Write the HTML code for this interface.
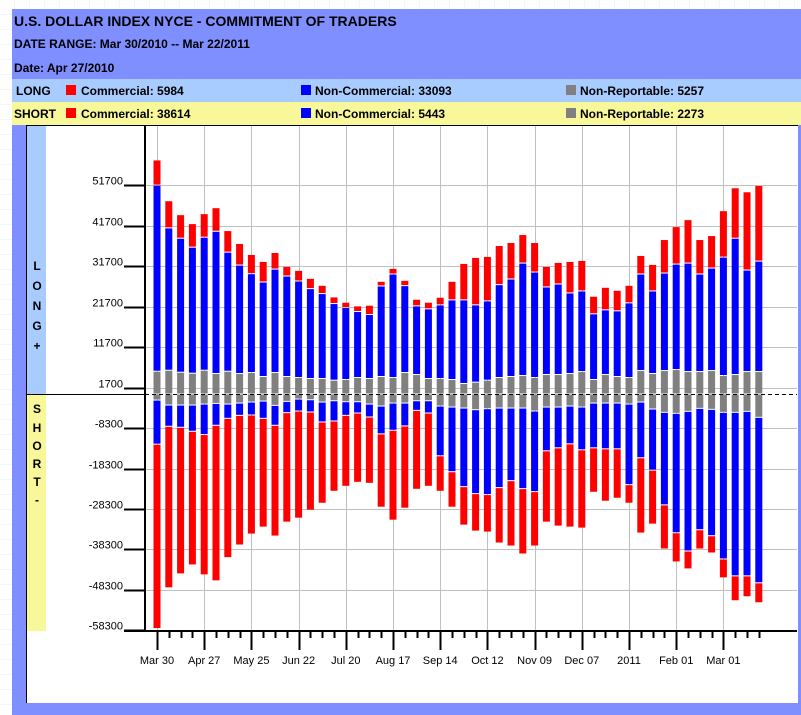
<!DOCTYPE html>
<html><head><meta charset="utf-8"><style>
html,body{margin:0;padding:0;background:#fff;}
svg{display:block;font-family:"Liberation Sans",sans-serif;}
.b{font-weight:bold;font-size:12px;fill:#000;}
</style></head><body>
<svg id="c" width="801" height="715" viewBox="0 0 801 715" xmlns="http://www.w3.org/2000/svg">
<defs><pattern id="gp" width="15" height="15" patternUnits="userSpaceOnUse"><rect width="15" height="15" fill="#fff"/><path d="M15 0V15M0 15H15" stroke="#d8f4f4" stroke-width="1"/></pattern></defs>
<rect x="0" y="0" width="801" height="715" fill="url(#gp)"/>
<rect x="12" y="9" width="789" height="706" fill="#7f8fff"/>
<text x="14" y="26" style="font-weight:bold;font-size:14px">U.S. DOLLAR INDEX NYCE - COMMITMENT OF TRADERS</text>
<text x="14" y="48" class="b">DATE RANGE: Mar 30/2010 -- Mar 22/2011</text>
<text x="14" y="72" class="b">Date: Apr 27/2010</text>
<rect x="12" y="79" width="789" height="23" fill="#a8ccff"/>
<rect x="12" y="102" width="789" height="23" fill="#f8f89a"/>
<text x="16" y="95" class="b">LONG</text>
<rect x="66" y="85" width="10" height="10" fill="#f00"/>
<text x="81" y="95" class="b">Commercial: 5984</text>
<rect x="301" y="85" width="10" height="10" fill="#00f"/>
<text x="315" y="95" class="b">Non-Commercial: 33093</text>
<rect x="566" y="85" width="10" height="10" fill="#808080"/>
<text x="580" y="95" class="b">Non-Reportable: 5257</text>
<text x="14" y="118" class="b">SHORT</text>
<rect x="66" y="108" width="10" height="10" fill="#f00"/>
<text x="81" y="118" class="b">Commercial: 38614</text>
<rect x="301" y="108" width="10" height="10" fill="#00f"/>
<text x="315" y="118" class="b">Non-Commercial: 5443</text>
<rect x="566" y="108" width="10" height="10" fill="#808080"/>
<text x="580" y="118" class="b">Non-Reportable: 2273</text>
<rect x="26" y="125" width="772" height="578" fill="#fff"/>
<line x1="26" y1="125.5" x2="798" y2="125.5" stroke="#000" stroke-width="1"/>
<line x1="26.5" y1="125" x2="26.5" y2="703" stroke="#000" stroke-width="1"/>
<rect x="27" y="126" width="19" height="268" fill="#a8ccff"/>
<rect x="27" y="395" width="19" height="236" fill="#f8f89a"/>
<g class="b" text-anchor="middle">
<text x="37" y="270">L</text><text x="37" y="290">O</text><text x="37" y="310">N</text><text x="37" y="330">G</text><text x="37" y="350">+</text></g>
<g class="b" text-anchor="middle">
<text x="37" y="413">S</text><text x="37" y="432">H</text><text x="37" y="450">O</text><text x="37" y="468">R</text><text x="37" y="486">T</text><text x="37" y="504">-</text></g>
<g id="grid"></g><g id="bars"></g><g id="axes"></g>
</svg>
<script>
const dates=["Mar 30","Apr 27","May 25","Jun 22","Jul 20","Aug 17","Sep 14","Oct 12","Nov 09","Dec 07","2011","Feb 01","Mar 01"];
const yTicks=[51700,41700,31700,21700,11700,1700,-8300,-18300,-28300,-38300,-48300,-58300];
const longNonRep=[5633,5879,5387,5141,5879,5059,5633,5059,5305,4321,5305,4321,4075,3829,3829,3419,3583,4075,3829,4321,4075,5305,4813,3829,3829,3583,2599,2927,3419,4075,4321,4567,4075,4813,4813,5059,5551,3583,4813,4321,4075,5797,5059,5797,6043,5551,5551,5797,4567,4813,5551,5551];
const longNonComm=[46002,35178,33128,31160,32882,35178,29438,26814,24436,23370,25584,24846,23862,22222,20992,18942,17794,16318,15826,22386,25584,21484,16974,17220,18204,19680,20664,19106,19598,22960,24108,27798,26076,21648,22386,19926,19926,16236,15990,16236,18450,23862,20418,24108,26076,26814,24108,25338,29274,33702,25092,27306];
const longComm=[6232,6724,5822,5822,5822,5822,5330,5330,4756,5084,4100,2378,2624,2542,2050,1640,1312,1394,2296,1148,1394,1312,1640,1640,1886,4592,9020,11726,10988,9676,9020,7052,7298,5084,5330,7790,7544,4346,5576,5084,4346,4592,6560,8282,9266,10742,8528,8036,11480,12464,19352,18696];
const shortNonRep=[1501,2731,2731,2731,2485,2321,2485,2239,1993,1747,2813,1829,1255,1419,1993,1665,1911,1911,2485,2977,2239,2239,1665,1665,2977,3223,3469,3879,3633,3469,3469,3469,4207,3223,3223,2977,3223,2239,2239,2239,2485,1993,3715,4535,4781,4289,3551,3797,4535,4535,4289,5765];
const shortNonComm=[10906,5248,5494,6478,7544,5412,3526,3034,3198,4264,4920,2788,2952,3034,4920,5002,3362,2788,3198,6888,6724,5658,2378,3034,12300,15990,19434,20746,21238,19680,17958,19926,19926,10824,10086,9348,10578,11070,11316,11316,19926,13776,15088,22878,29520,34522,30012,31242,36244,40426,40672,40918];
const shortComm=[45592,39934,36244,33046,34686,38458,34440,32062,29438,26896,27388,27060,26486,24272,20090,17384,17548,17138,16400,18122,22222,20336,19516,18122,8774,8774,9512,9266,9266,13694,16154,16154,13448,17630,19352,20582,19352,10988,12956,12218,4592,18614,13366,10906,7216,4428,4756,4264,4674,6150,5166,4920];

const NS="http://www.w3.org/2000/svg";
const X0=157,STEP=11.8,Y0=394.5,K=0.004045;
function xS(i){return X0+i*STEP;}
function yS(v){return Y0-v*K;}
function mk(parent,tag,attrs){const e=document.createElementNS(NS,tag);for(const k in attrs)e.setAttribute(k,attrs[k]);parent.appendChild(e);return e;}
const grid=document.getElementById('grid'),bars=document.getElementById('bars'),axes=document.getElementById('axes');
const N=longComm.length;
yTicks.forEach(v=>{
  const y=Math.round(yS(v))+0.5;
  const gl=mk(grid,'line',{x1:145,y1:y,x2:797,y2:y,stroke:'#c0c0c0','stroke-width':1});
  
  
  const tk=mk(axes,'line',{x1:124,y1:y,x2:145,y2:y,stroke:'#000','stroke-width':2});
  
  
  const t=mk(axes,'text',{x:123,y:y-1,'text-anchor':'end','font-size':'11px',fill:'#000'});
  t.textContent=String(v);
  
  
});
dates.forEach((d,k)=>{
  const x=Math.round(xS(k*4))+0.5;
  const gl=mk(grid,'line',{x1:x,y1:126,x2:x,y2:631,stroke:'#c0c0c0','stroke-width':1});
  
  
});
function seg(x,v0,v1,color,name){
  const ya=yS(v0),yb=yS(v1);
  const top=Math.min(ya,yb),h=Math.abs(ya-yb);
  const r=mk(bars,'rect',{x:x-3.5,y:top,width:7,height:Math.max(0,h-1),fill:color});
  
  
}
for(let i=0;i<N;i++){
  const x=xS(i);
  let a=0;
  seg(x,a,a+longNonRep[i],'#808080','bar-long-nonreportable');a+=longNonRep[i];
  seg(x,a+longNonComm[i],a,'#0000ff','bar-long-noncommercial');a+=longNonComm[i];
  seg(x,a+longComm[i],a,'#ff0000','bar-long-commercial');
  let b=0;
  seg(x,b,b-shortNonRep[i],'#808080','bar-short-nonreportable');b-=shortNonRep[i];
  seg(x,b,b-shortNonComm[i],'#0000ff','bar-short-noncommercial');b-=shortNonComm[i];
  seg(x,b,b-shortComm[i],'#ff0000','bar-short-commercial');
}
const z1=mk(axes,'line',{x1:27,y1:394.5,x2:145,y2:394.5,stroke:'#000','stroke-width':1});


const z2=mk(axes,'line',{x1:145,y1:394.5,x2:797,y2:394.5,stroke:'#000','stroke-width':1,'stroke-dasharray':'4,3'});


const ya=mk(axes,'line',{x1:145,y1:125,x2:145,y2:632,stroke:'#000','stroke-width':2});


const xa=mk(axes,'line',{x1:124,y1:631,x2:797,y2:631,stroke:'#000','stroke-width':2});


for(let i=0;i<N;i++){
  const x=Math.round(xS(i))+0.5;
  const major=i%4===0;
  const t=mk(axes,'line',{x1:x,y1:631,x2:x,y2:major?650:638,stroke:'#000','stroke-width':2});
  
  
}
dates.forEach((d,k)=>{
  const t=mk(axes,'text',{x:xS(k*4),y:664,'text-anchor':'middle','font-size':'11px',fill:'#000'});
  t.textContent=d;
  
  
});
</script>
</body></html>
